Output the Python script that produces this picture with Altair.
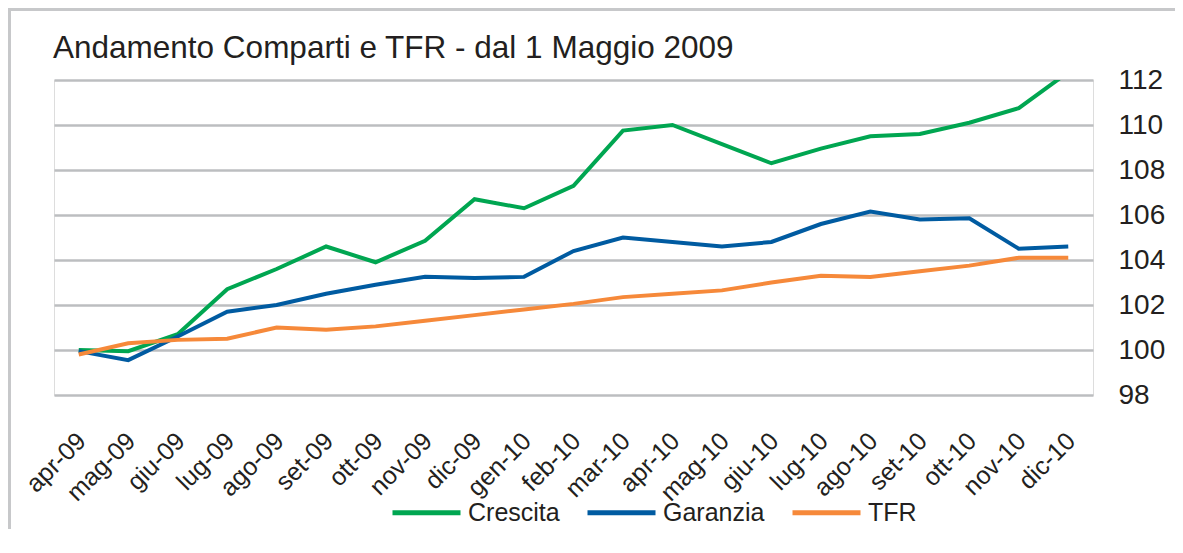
import altair as alt
import pandas as pd

months = ["apr-09", "mag-09", "giu-09", "lug-09", "ago-09", "set-09", "ott-09",
          "nov-09", "dic-09", "gen-10", "feb-10", "mar-10", "apr-10", "mag-10",
          "giu-10", "lug-10", "ago-10", "set-10", "ott-10", "nov-10", "dic-10"]

crescita = [100.0, 99.95, 100.7, 102.7, 103.6, 104.6, 103.9, 104.85, 106.7, 106.3,
            107.3, 109.75, 110.0, 109.15, 108.3, 108.95, 109.5, 109.6, 110.1, 110.75, 112.35]
garanzia = [99.95, 99.55, 100.6, 101.7, 102.0, 102.5, 102.9, 103.25, 103.2, 103.25,
            104.4, 105.0, 104.8, 104.6, 104.8, 105.6, 106.15, 105.8, 105.85, 104.5, 104.6]
tfr = [99.8, 100.3, 100.45, 100.5, 101.0, 100.9, 101.05, 101.3, 101.55, 101.8,
       102.05, 102.35, 102.5, 102.65, 103.0, 103.3, 103.25, 103.5, 103.75, 104.1, 104.1]

series_names = ["Crescita", "Garanzia", "TFR"]
series_colors = ["#00a651", "#005ba1", "#f6893a"]
y_ticks = [98, 100, 102, 104, 106, 108, 110, 112]
title_text = "Andamento Comparti e TFR - dal 1 Maggio 2009"

rows = []
for name, vals in zip(series_names, [crescita, garanzia, tfr]):
    for m, v in zip(months, vals):
        rows.append({"mese": m, "valore": v, "serie": name})
df = pd.DataFrame(rows)

FONT = "Liberation Sans"
TXT = "#231f20"
GRID = "#bcbec0"

lines = alt.Chart(df).mark_line(strokeWidth=4, clip=True).encode(
    x=alt.X("mese:N", sort=months, title=None,
            scale=alt.Scale(type="point", padding=0.5),
            axis=alt.Axis(labelAngle=-45, labelAlign="right", labelBaseline="top",
                          labelFontSize=25, labelColor=TXT, labelPadding=33,
                          labelOffset=-6, ticks=False, tickSize=0, domain=False,
                          grid=False, labelFont=FONT)),
    y=alt.Y("valore:Q", title=None,
            scale=alt.Scale(domain=[98, 112], nice=False, zero=False),
            axis=alt.Axis(orient="right", values=y_ticks, ticks=False, tickSize=0,
                          domain=False, labelFontSize=28, labelColor=TXT,
                          labelPadding=25, labelFont=FONT, gridColor=GRID,
                          gridWidth=2.5, gridOpacity=1)),
    color=alt.Color("serie:N", title=None,
                    scale=alt.Scale(domain=series_names, range=series_colors),
                    legend=alt.Legend(orient="none", direction="horizontal",
                                      legendX=336, legendY=396,
                                      symbolType="stroke", symbolSize=4624,
                                      symbolStrokeWidth=5, labelFontSize=25,
                                      labelColor=TXT, labelFont=FONT,
                                      labelOffset=5, columnPadding=17)),
)

one = pd.DataFrame({"t": [title_text]})
top_border = alt.Chart(one).mark_rule(color="#c7c8ca", strokeWidth=3).encode(
    x=alt.value(-46), x2=alt.value(1121), y=alt.value(-70.5))
left_border = alt.Chart(one).mark_rule(color="#c7c8ca", strokeWidth=3).encode(
    x=alt.value(-44.5), y=alt.value(-72), y2=alt.value(465))
title = alt.Chart(one).mark_text(align="left", baseline="alphabetic", fontSize=31.5,
                                 font=FONT, color=TXT).encode(
    text="t:N", x=alt.value(-1), y=alt.value(-22))

chart = alt.layer(top_border, left_border, title, lines).properties(
    width=1039,
    height=315,
    padding={"left": 46, "top": 72, "right": 82, "bottom": 134},
    autosize=alt.AutoSizeParams(type="none"),
).configure_view(stroke=GRID, strokeWidth=2.5).configure(background="white")

chart.save("out.html", embed_options={"renderer": "svg", "actions": False})
